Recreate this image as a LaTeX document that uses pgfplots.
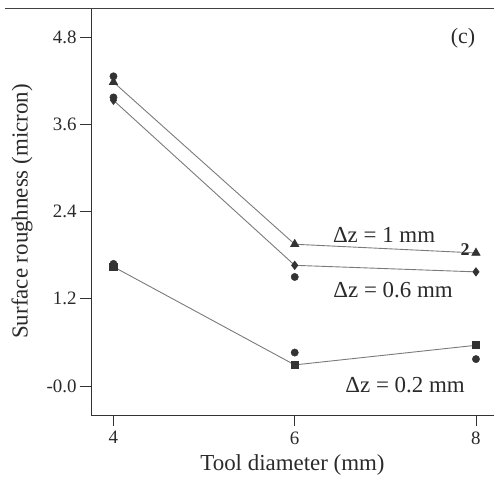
\documentclass[border=0pt]{standalone}
\usepackage{pgfplots}
\pgfplotsset{compat=1.18}
\usepackage{fontspec}
\setmainfont{Liberation Serif}
\definecolor{mk}{HTML}{333333}
\definecolor{ln}{HTML}{7A7A7A}
\definecolor{tx}{HTML}{2A2A2A}
\begin{document}
\begin{tikzpicture}
\begin{axis}[
  at={(0,0)}, anchor=south west,
  scale only axis, width=403bp, height=407bp,
  xmin=3.752, xmax=8.199, ymin=-0.399, ymax=5.20,
  axis x line*=bottom, axis y line*=left,
  axis line style={-, color=black!80, line width=0.9pt},
  xtick={4,6,8}, ytick={0,1.2,2.4,3.6,4.8},
  yticklabels={-0.0,1.2,2.4,3.6,4.8},
  tick align=outside, major tick length=11bp,
  tick style={black!80, line width=0.9pt},
  /pgf/number format/assume math mode=true,
  ticklabel style={font=\fontsize{19}{19}\selectfont, color=tx},
  xticklabel style={yshift=-2bp},
  xlabel={Tool diameter (mm)}, ylabel={Surface roughness (micron)},
  label style={font=\fontsize{23}{23}\selectfont, color=tx},
  xlabel style={at={(axis description cs:0.5,0)}, anchor=center, yshift=-50bp},
  ylabel style={at={(axis description cs:-0.171,0.5)}, anchor=center},
  clip=false,
]
% Delta z = 1 mm
\addplot[ln, line width=0.9pt, mark=triangle*, mark size=4.6pt, mark options={mk, fill=mk}]
  coordinates {(4,4.18) (6,1.95) (8,1.83)};
% Delta z = 0.6 mm
\addplot[ln, line width=0.9pt, mark=diamond*, mark size=4pt, mark options={mk, fill=mk}]
  coordinates {(4,3.93) (6,1.66) (8,1.57)};
% Delta z = 0.2 mm
\addplot[ln, line width=0.9pt, mark=square*, mark size=3.6pt, mark options={mk, fill=mk}]
  coordinates {(4,1.64) (6,0.29) (8,0.56)};
% observed points (circles)
\addplot[only marks, mark=*, mark size=3.7pt, mark options={mk, fill=mk}]
  coordinates {(4,4.26) (4,3.97) (4,1.68) (6,1.50) (6,0.46) (8,0.37)};
\node[font=\fontsize{23}{23}\selectfont, color=tx] at (axis cs:6.986,2.077) {Δz = 1 mm};
\node[font=\fontsize{23}{23}\selectfont, color=tx] at (axis cs:7.085,1.32) {Δz = 0.6 mm};
\node[font=\fontsize{23}{23}\selectfont, color=tx] at (axis cs:7.218,0.014) {Δz = 0.2 mm};
\node[font=\fontsize{22}{22}\selectfont, color=tx] at (axis cs:7.858,4.79) {(c)};
\node[font=\bfseries\fontsize{18}{18}\selectfont, color=tx] at (axis cs:7.88,1.87) {2};
\end{axis}
\draw[black!75, line width=0.9pt] (-86bp,407bp) -- (403bp,407bp);
\pgfresetboundingbox
\path (-91bp,-64bp) rectangle (403bp,415bp);
\end{tikzpicture}
\end{document}
